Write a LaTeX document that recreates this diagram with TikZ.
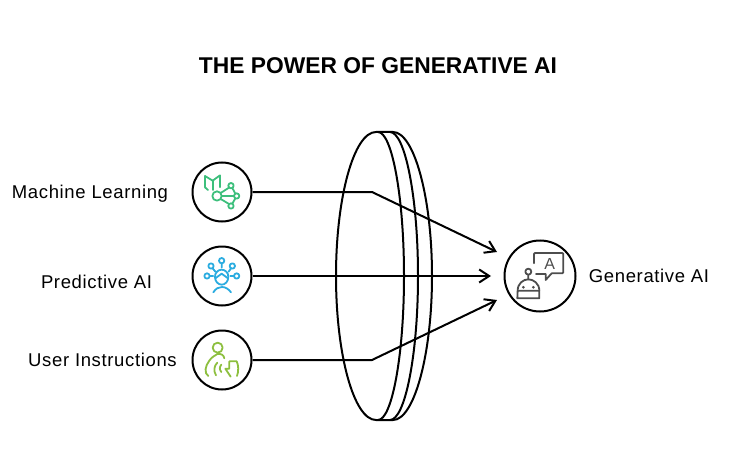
\documentclass[tikz,border=0pt]{standalone}
\usepackage{fontspec}
\setmainfont{Liberation Sans}
\newfontfamily\fuente[LetterSpace=3.5]{Liberation Sans}
\usetikzlibrary{arrows.meta}
\definecolor{verde}{HTML}{3DBF7C}
\definecolor{azul}{HTML}{2BACE0}
\definecolor{lima}{HTML}{8DBF3F}
\definecolor{gris}{HTML}{4D4D4D}

\begin{document}
\begin{tikzpicture}[x=1pt,y=-1pt,>={Straight Barb[length=10pt,width=13pt]},
        circulo/.style={circle,draw=black,line width=2pt,inner sep=0pt,minimum size=59pt},
        circulog/.style={circulo,minimum size=71pt},
        etiqueta/.style={font=\fuente\fontsize{18.5}{20}\selectfont,inner sep=0pt,anchor=base},
        titulo/.style={font=\fontsize{22.8}{26}\bfseries\selectfont,inner sep=0pt},
        flecha/.style={draw=black,line width=2pt,line join=round},
        icono/.style={line width=1.8pt,line cap=round,line join=round}]
      \useasboundingbox (0,0) rectangle (744,468);
      \node [titulo]    (title) at (378,66)  {THE POWER OF GENERATIVE AI};
      \node [circulo]   (ml)    at (222,192) {};
      \node [circulo]   (pai)   at (222,276) {};
      \node [circulo]   (ui)    at (222,360) {};
      \node [circulog]  (gai)   at (540,276) {};
      \node [etiqueta]  (lml)   at (90,198)  {Machine Learning};
      \node [etiqueta]  (lpai)  at (96.5,288) {Predictive AI};
      \node [etiqueta]  (lui)   at (102.5,366) {User Instructions};
      \node [etiqueta]  (lgai)  at (649,282) {Generative AI};
      \coordinate (c1) at (372,192);
      \coordinate (c3) at (372,360);
      \coordinate (e1) at (497,252);
      \coordinate (e2) at (491,276);
      \coordinate (e3) at (497,300);
      \draw[line width=2pt,line join=round]
      (376,132) .. controls (354,132) and (336,197) .. (336,276)
      .. controls (336,355) and (354,420) .. (376,420) -- (393,420)
      .. controls (414,420) and (432,355) .. (432,276)
      .. controls (432,197) and (414,132) .. (393,132) -- cycle;
      \draw[line width=2pt]
      (378,132) .. controls (392,132) and (404,197) .. (404,276)
      .. controls (404,355) and (392,420) .. (378,420);
      \draw[line width=2pt]
      (390,132) .. controls (405,132) and (418,197) .. (418,276)
      .. controls (418,355) and (405,420) .. (390,420);
      \draw[->,flecha] (ml.east) -- (c1) -- (e1);
      \draw[->,flecha] (pai.east) -- (e2);
      \draw[->,flecha] (ui.east) -- (c3) -- (e3);
      % machine learning
      \begin{scope}[shift={(180,150)},x=0.3333pt,y=-0.3333pt,icono,draw=verde]
        \draw (84,120) -- (75,112) -- (75,78) -- (98,92) -- (120,76) -- (120,112);
        \draw (98,92) -- (98,120);
        \draw (111,138) circle (14) (153,107) circle (8) (170,138) circle (8) (153,168) circle (8);
        \draw (122,129) -- (147,113) (125,138) -- (162,138) (122,147) -- (147,162);
        \draw (157,114) -- (166,131) (166,145) -- (157,161);
      \end{scope}
      % predictive
      \begin{scope}[shift={(180,235)},x=0.3333pt,y=-0.3333pt,icono,draw=azul]
        \draw (93,93) circle (8) (125,77) circle (8) (157,93) circle (8) (81,123) circle (8) (170,123) circle (8);
        \draw (98,100) -- (106,110) (125,85) -- (125,98) (153,100) -- (146,110) (89,123) -- (100,123) (162,123) -- (151,123);
        \draw (105,126) .. controls (104,113) and (115,104) .. (125,104)
        .. controls (135,104) and (146,113) .. (145,126)
        .. controls (145,140) and (135,149) .. (125,149)
        .. controls (115,149) and (105,140) .. (105,126);
        \draw (106,130) -- (125,116) -- (144,130);
        \draw (100,172) .. controls (108,160) and (116,156) .. (126,156)
        .. controls (136,156) and (146,162) .. (153,172);
      \end{scope}
      % user
      \begin{scope}[shift={(180,320)},x=0.3333pt,y=-0.3333pt,icono,draw=lima]
        \draw (113,83) circle (15);
        \draw (85,168) .. controls (72,160) and (75,138) .. (88,122)
        .. controls (95,112) and (102,108) .. (112,102) .. controls (122,100) and (132,105) .. (133,115);
        \draw (108,166) .. controls (100,152) and (102,138) .. (112,128);
        \draw (124,156) .. controls (118,148) and (118,142) .. (124,134);
        \draw (152,170) -- (136,146) -- (148,146) -- (148,124) -- (170,124)
        .. controls (176,135) and (176,155) .. (171,168);
      \end{scope}
      % robot
      \begin{scope}[shift={(480,230)},x=0.3333pt,y=-0.3333pt,icono,draw=gris]
        \draw (162,100) -- (162,72) -- (165,69) -- (247,69) -- (250,72) -- (250,127) -- (247,130)
        -- (215,130) -- (197,150) -- (197,132) -- (168,132);
        \node [text=gris,inner sep=0pt,font=\fontsize{16}{16}\selectfont] (letra) at (209,102) {A};
        \draw (145,125) circle (9) (145,134) -- (145,148);
        \draw (113,182) .. controls (113,160) and (130,148) .. (145,148)
        .. controls (160,148) and (178,160) .. (178,182);
        \draw (113,182) -- (178,182) -- (178,205) -- (112,205) -- cycle;
        \fill[gris] (130,172) circle (4.5) (160,172) circle (4.5);
      \end{scope}
    \end{tikzpicture}
\end{document}
